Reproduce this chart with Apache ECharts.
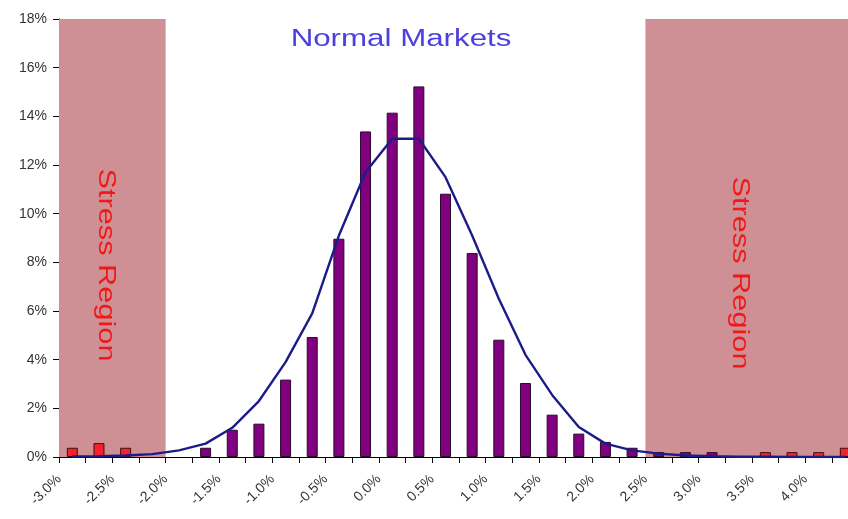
<!DOCTYPE html>
<html>
<head>
<meta charset="utf-8">
<title>Normal Markets</title>
<script src="https://cdn.jsdelivr.net/npm/echarts@6/dist/echarts.min.js"></script>
<style>
  html, body { margin: 0; padding: 0; background: #ffffff; }
  #chart { width: 848px; height: 519px; }
</style>
</head>
<body>
<div id="chart"></div>
<script>
// Daily return bins (centre of each 0.25% bin, in %)
const binCenters = [
  -2.875, -2.625, -2.375, -2.125, -1.875, -1.625, -1.375, -1.125, -0.875, -0.625,
  -0.375, -0.125, 0.125, 0.375, 0.625, 0.875, 1.125, 1.375, 1.625, 1.875,
  2.125, 2.375, 2.625, 2.875, 3.125, 3.375, 3.625, 3.875, 4.125, 4.375
];

// Observed frequency (%) of returns in the normal range
const normalFreq = [
  null, null, null, null, null, 0.38, 1.12, 1.37, 3.18, 4.93,
  8.97, 13.38, 14.15, 15.23, 10.82, 8.38, 4.82, 3.04, 1.74, 0.96,
  0.62, 0.38, 0.2, 0.2, 0.2, null, null, null, null, null
];

// Observed frequency (%) of extreme returns
const stressFreq = [
  0.38, 0.57, 0.38, null, null, null, null, null, null, null,
  null, null, null, null, null, null, null, null, null, null,
  null, null, null, null, null, null, 0.2, 0.2, 0.2, 0.38
];

// Fitted normal density (%) at each bin centre
const normalFit = [
  0.02, 0.03, 0.06, 0.12, 0.27, 0.55, 1.2, 2.3, 3.9, 5.9,
  9.1, 11.7, 13.08, 13.08, 11.5, 9.1, 6.5, 4.2, 2.55, 1.23,
  0.55, 0.27, 0.14, 0.06, 0.03, 0.01, 0.01, 0, 0, 0
];

// Axis ranges and ticks (the return axis runs on past the right edge)
const xMin = -3.0, xMax = 4.4, xStep = 0.25;
const yMin = 0, yMax = 18, yStep = 2;

// Shaded stress regions (return ranges, %)
const stressRegions = [[-3.0, -2.0], [2.5, xMax]];

const titleText = 'Normal Markets';
const regionText = 'Stress Region';

const pairs = (vals) => binCenters.map((x, i) => [x, vals[i] == null ? '-' : vals[i]]);

const chart = echarts.init(document.getElementById('chart'), null, { renderer: 'canvas' });

const labelFont = 'Liberation Sans, Arial, sans-serif';

const option = {
  backgroundColor: '#ffffff',
  animation: false,
  grid: { left: 59, top: 19, bottom: 62, right: 0, containLabel: false },
  xAxis: {
    type: 'value',
    min: xMin,
    max: xMax,
    interval: xStep,
    splitLine: { show: false },
    axisLine: { show: true, onZero: false, lineStyle: { color: '#000000', width: 1 } },
    axisTick: { show: true, inside: false, length: 6, lineStyle: { color: '#000000' } },
    axisLabel: {
      rotate: 45,
      margin: 20,
      fontFamily: labelFont,
      fontSize: 14,
      color: '#333333',
      showMaxLabel: false,
      formatter: function (v) {
        const hundredths = Math.round(v * 100);
        if (hundredths % 50 !== 0 || v >= xMax) return '';
        return v.toFixed(1) + '%';
      }
    }
  },
  yAxis: {
    type: 'value',
    min: yMin,
    max: yMax,
    interval: yStep,
    splitLine: { show: false },
    axisLine: { show: true, onZero: false, lineStyle: { color: '#000000', width: 1 } },
    axisTick: { show: true, inside: false, length: 6, lineStyle: { color: '#000000' } },
    axisLabel: {
      margin: 12,
      fontFamily: labelFont,
      fontSize: 14,
      color: '#333333',
      formatter: '{value}%'
    }
  },
  series: [
    {
      // background shading for the stress regions
      name: 'regions',
      type: 'line',
      data: [],
      z: 1,
      silent: true,
      markArea: {
        silent: true,
        itemStyle: { color: '#cf9095', opacity: 1 },
        data: stressRegions.map(r => [{ xAxis: r[0], yAxis: yMax }, { xAxis: r[1], yAxis: yMin }])
      }
    },
    {
      name: 'Normal',
      type: 'bar',
      z: 3,
      barWidth: 11,
      barGap: '-100%',
      clip: false,
      itemStyle: { color: '#800080', borderColor: '#2a0a2a', borderWidth: 1 },
      data: pairs(normalFreq)
    },
    {
      name: 'Stress',
      type: 'bar',
      z: 3,
      barWidth: 11,
      barGap: '-100%',
      clip: false,
      itemStyle: { color: '#f8202a', borderColor: '#3a1010', borderWidth: 1 },
      data: pairs(stressFreq)
    },
    {
      name: 'Normal fit',
      type: 'line',
      z: 4,
      symbol: 'none',
      smooth: false,
      lineStyle: { color: '#1c1c88', width: 2.4 },
      data: pairs(normalFit)
    }
  ],
  graphic: [
    {
      type: 'text',
      x: 401, y: 40,
      scaleX: 1.36,
      z: 10,
      style: {
        text: titleText,
        fontFamily: labelFont,
        fontSize: 23,
        fill: '#4b3fe0',
        align: 'center',
        verticalAlign: 'middle'
      }
    },
    {
      type: 'text',
      x: 106, y: 265,
      rotation: -Math.PI / 2,
      scaleX: 1.28,
      z: 10,
      style: {
        text: regionText,
        fontFamily: labelFont,
        fontSize: 24,
        fill: '#f01818',
        align: 'center',
        verticalAlign: 'middle'
      }
    },
    {
      type: 'text',
      x: 740, y: 273,
      rotation: -Math.PI / 2,
      scaleX: 1.28,
      z: 10,
      style: {
        text: regionText,
        fontFamily: labelFont,
        fontSize: 24,
        fill: '#f01818',
        align: 'center',
        verticalAlign: 'middle'
      }
    }
  ]
};

chart.setOption(option);
</script>
</body>
</html>
